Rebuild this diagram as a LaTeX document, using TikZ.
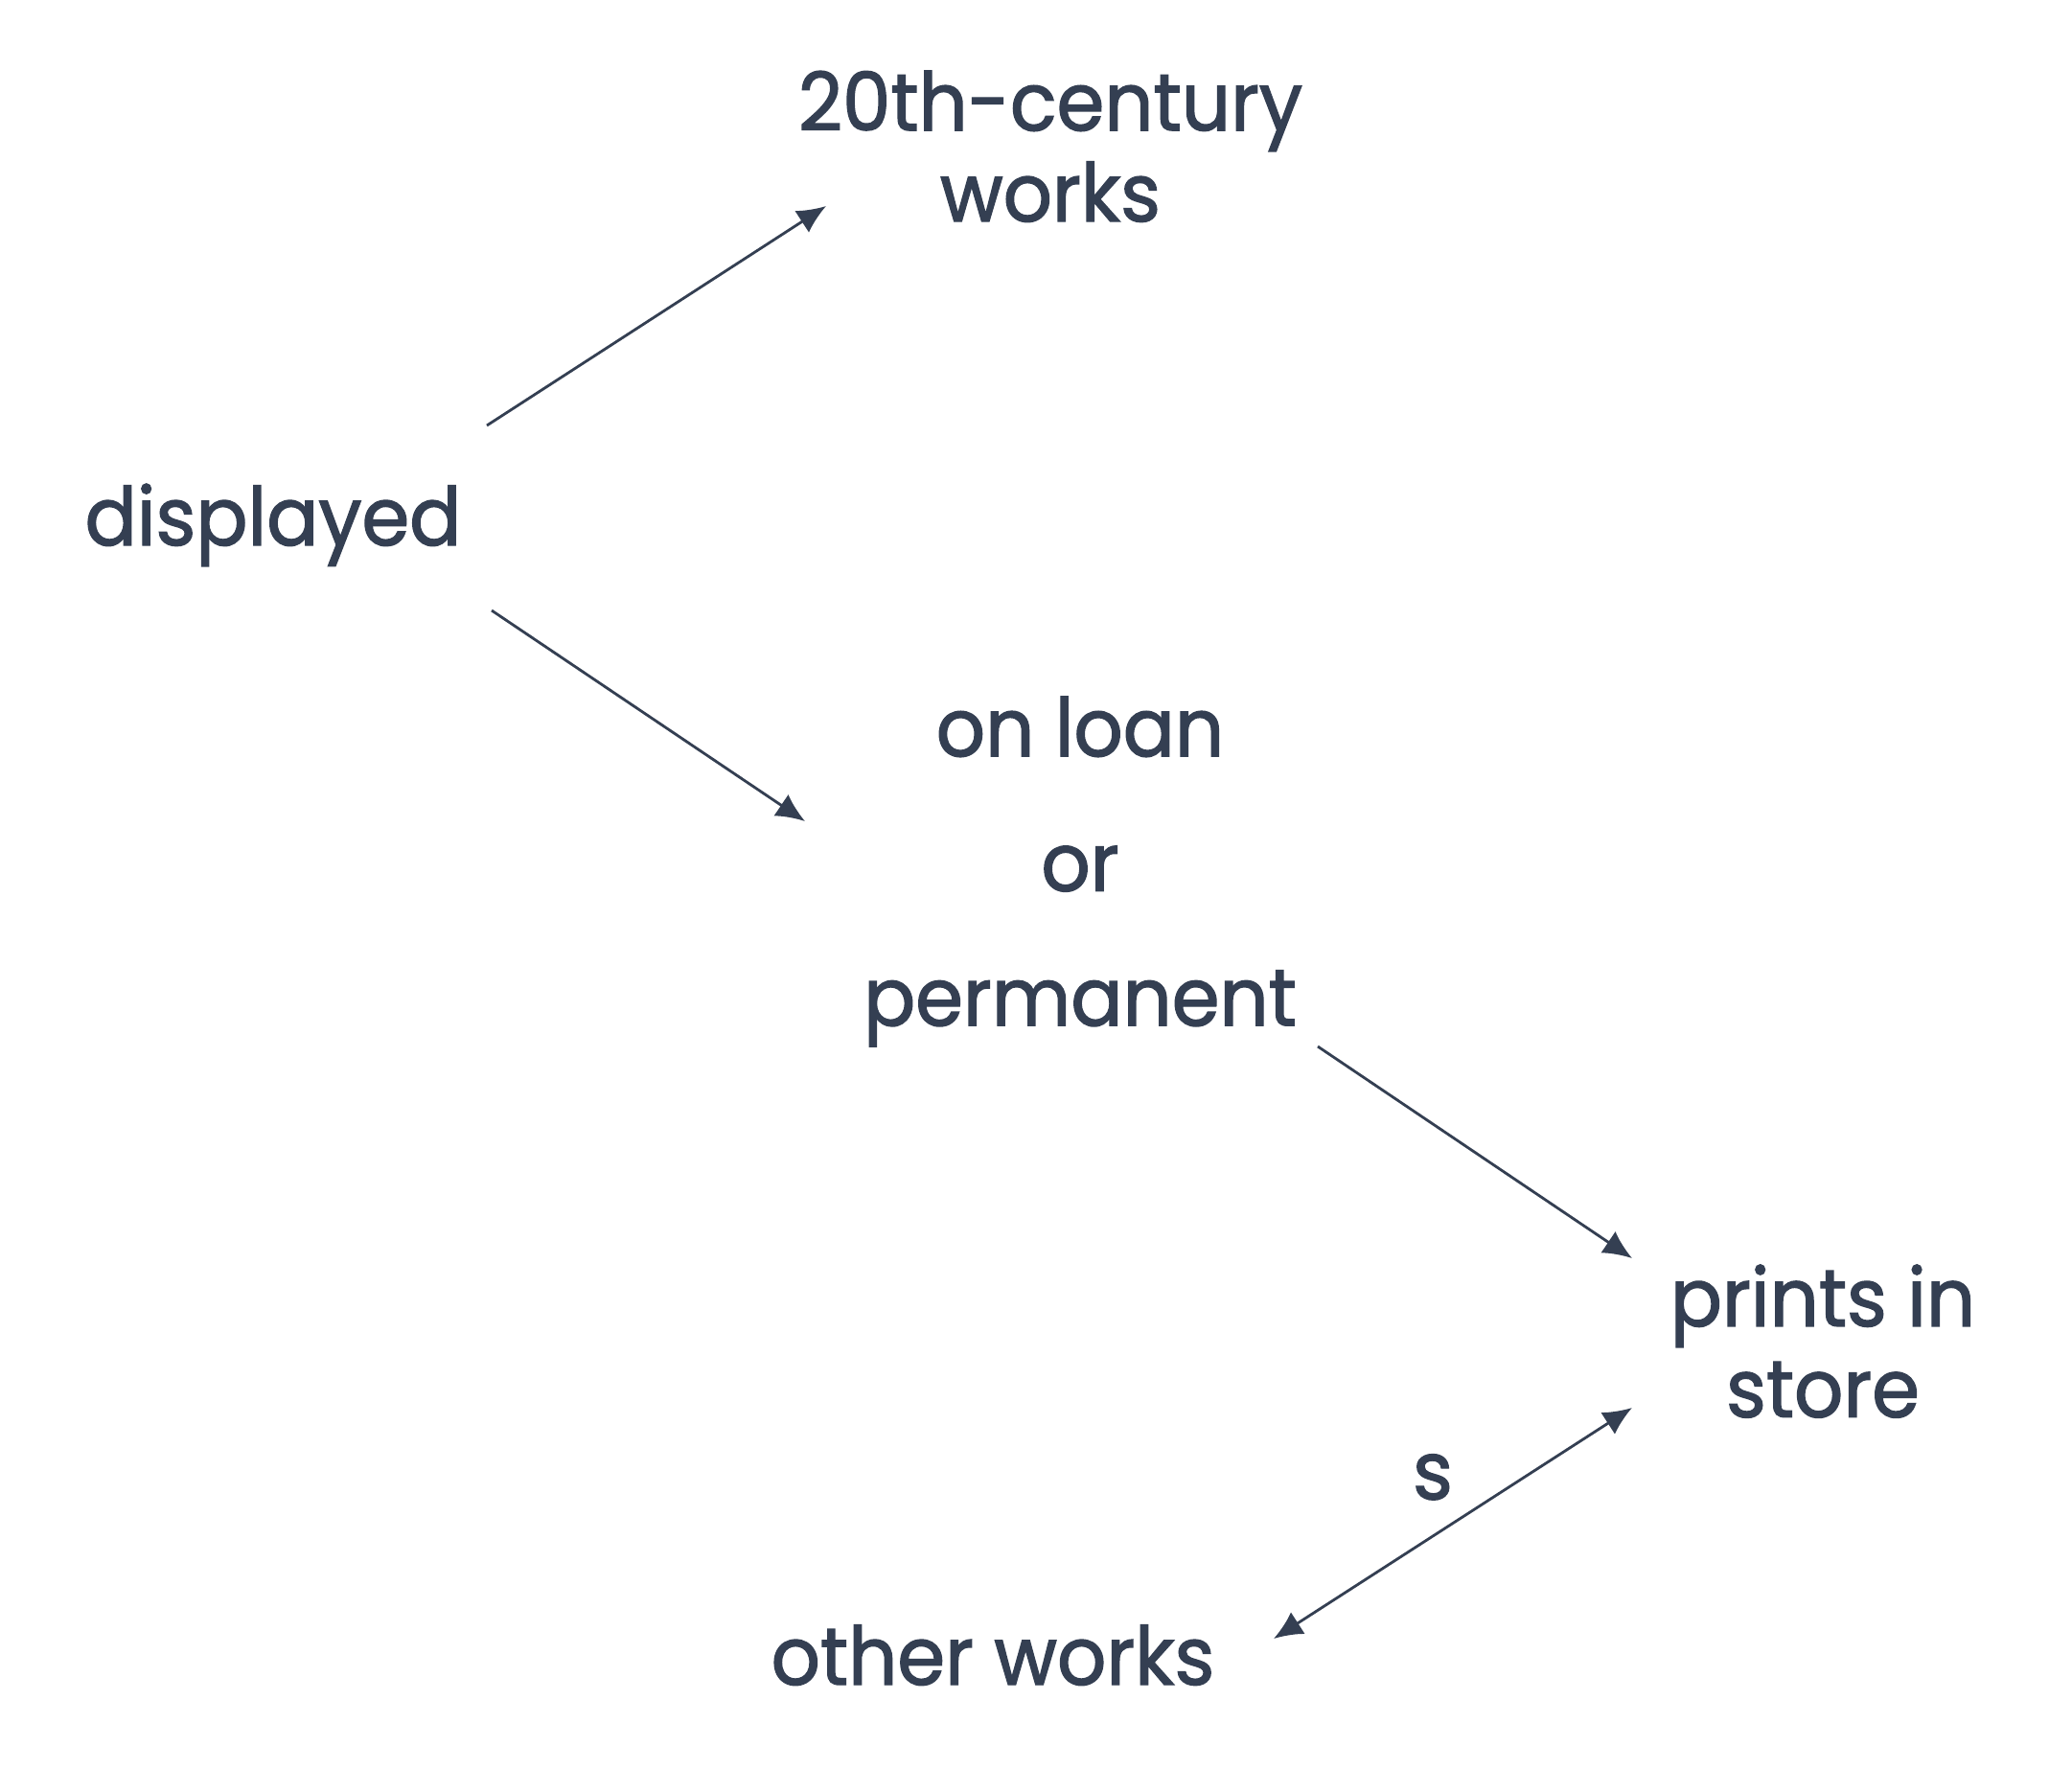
\documentclass[tikz,border=0pt]{standalone}
\usepackage{fontspec}
\setmainfont{Poppins}[FakeStretch=0.95, FakeBold=1.6]
\usepackage{tikz}
\usetikzlibrary{calc, arrows.meta}
\definecolor{myslate}{RGB}{52, 63, 82}
\tikzset{>={Latex[length=3mm,width=2.7mm]}}
\tikzset{word/.style={inner sep=0pt, text=myslate, font=\fontsize{24}{27}\selectfont, align=center},
         link/.style={draw=myslate, line width=0.8pt}}

\begin{document}
\begin{tikzpicture}
\useasboundingbox (0,0) rectangle (21.38,-18.70);

\node[word, anchor=base] (displayed) at (2.85,-5.69) {displayed};
\node[word, anchor=north] (twentieth) at (10.96,-0.73) {20th-century\\works};
\node[word, anchor=north, font=\fontsize{24}{40}\selectfont] (onloan) at (11.27,-7.26) {on loan\\or\\permanent};
\node[word, anchor=north] (prints) at (19.02,-13.19) {prints in\\store};
\node[word, anchor=base] (other) at (10.36,-17.58) {other works};

\draw[link, ->] ([shift={(2.23,1.25)}]displayed.base) -- ([shift={(-2.34,-1.42)}]twentieth.north);
\draw[link, ->] ([shift={(2.28,-0.68)}]displayed.base) -- ([shift={(-2.87,-1.31)}]onloan.north);
\draw[link, ->] ([shift={(2.48,-3.66)}]onloan.north) -- ([shift={(-1.99,0.06)}]prints.north);
\draw[link, <->] ([shift={(2.93,0.48)}]other.base) -- ([shift={(-1.99,-1.50)}]prints.north)
  node[word, midway, anchor=base, shift={(-0.21,0.25)}] (slabel) {s};

\end{tikzpicture}
\end{document}
